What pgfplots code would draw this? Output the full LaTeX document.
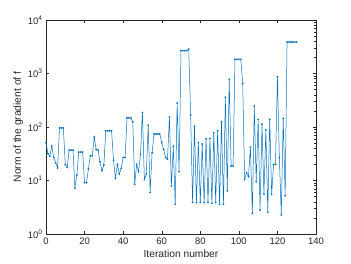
\documentclass[border=0pt]{standalone}
\usepackage{fontspec}
\setmainfont{Liberation Sans}
\usepackage{pgfplots}
\pgfplotsset{compat=1.18}
\definecolor{mblue}{RGB}{0,114,189}
\definecolor{axgray}{RGB}{38,38,38}
\begin{document}
\begin{tikzpicture}[x=1bp,y=1bp]
\pgfplotsset{every axis/.append style={
  scale only axis, width=270bp, height=214bp,
  xmin=0, xmax=140, ymode=log, ymin=1, ymax=10000,
  axis line style={axgray, line width=0.5bp},
  every tick/.style={axgray, line width=0.4bp},
  major tick length=3bp, minor tick length=1.8bp,
  tick align=inside,
  font=\fontsize{9.5}{11}\selectfont,
  tick label style={text=axgray},
}}
\begin{axis}[
  name=ax,
  xtick={0,20,...,140},
  ytick={1,10,100,1000,10000},
  yticklabels={10\textsuperscript{0},10\textsuperscript{1},10\textsuperscript{2},10\textsuperscript{3},10\textsuperscript{4}},
  minor y tick style={draw=none},
  /pgf/number format/assume math mode=true,
  xlabel={Iteration number},
  ylabel={Norm of the gradient of f},
  label style={text=axgray, font=\fontsize{10.3}{12}\selectfont},
  xlabel style={yshift=1bp},
  ylabel style={yshift=-2bp},
]
\addplot[mblue, line width=0.5bp, mark=*, mark size=0.6bp] coordinates {
(0,51)(1,32)(2,28.5)(3,44)(4,27)(5,21.5)(6,17.2)(7,96)(8,96)(9,96)
(10,19.8)(11,17.5)(12,37)(13,37)(14,37)(15,7.2)(16,12.7)(17,34)(18,34)(19,34)
(20,9.1)(21,9.1)(22,16.6)(23,29)(24,29)(25,65)(26,38)(27,37)(28,22.5)(29,15.3)
(30,19.5)(31,85)(32,85)(33,85)(34,85)(35,24)(36,11)(37,20)(38,13.2)(39,16.9)
(40,27)(41,27)(42,148)(43,148)(44,148)(45,125)(46,8.5)(47,20)(48,14.6)(49,31)
(50,186)(51,10.5)(52,13.2)(53,108)(54,6.0)(55,33)(56,74)(57,74)(58,74)(59,74)
(60,51)(61,38)(62,27)(63,25)(64,153)(65,7.9)(66,44)(67,3.6)(68,280)(69,14.6)
(70,2670)(71,2670)(72,2670)(73,2670)(74,2850)(75,168)(76,3.9)(77,104)(78,3.85)(79,51)
(80,3.9)(81,48)(82,3.85)(83,60)(84,3.9)(85,61)(86,3.75)(87,78)(88,3.85)(89,85)
(90,3.6)(91,126)(92,3.6)(93,360)(94,6.4)(95,780)(96,18.7)(97,18.7)(98,1840)(99,1840)
(100,1840)(101,1840)(102,650)(103,10.5)(104,14)(105,11.8)(106,42)(107,2.44)(108,246)(109,9.5)
(110,139)(111,2.8)(112,113)(113,5.6)(114,88)(115,2.55)(116,139)(117,5.5)(118,20)(119,20)
(120,870)(121,26.6)(122,2.27)(123,145)(124,5.2)(125,3880)(126,3880)(127,3880)(128,3880)(129,3880)(130,3880)
};
\end{axis}
\begin{axis}[
  hide x axis,
  axis y line*=right,
  ytick={1,10,100,1000,10000},
  yticklabels={},
]
\addplot[draw=none] coordinates {(0,1)(140,10000)};
\end{axis}
\path (-46,-30) rectangle (305,234);
\end{tikzpicture}
\end{document}
